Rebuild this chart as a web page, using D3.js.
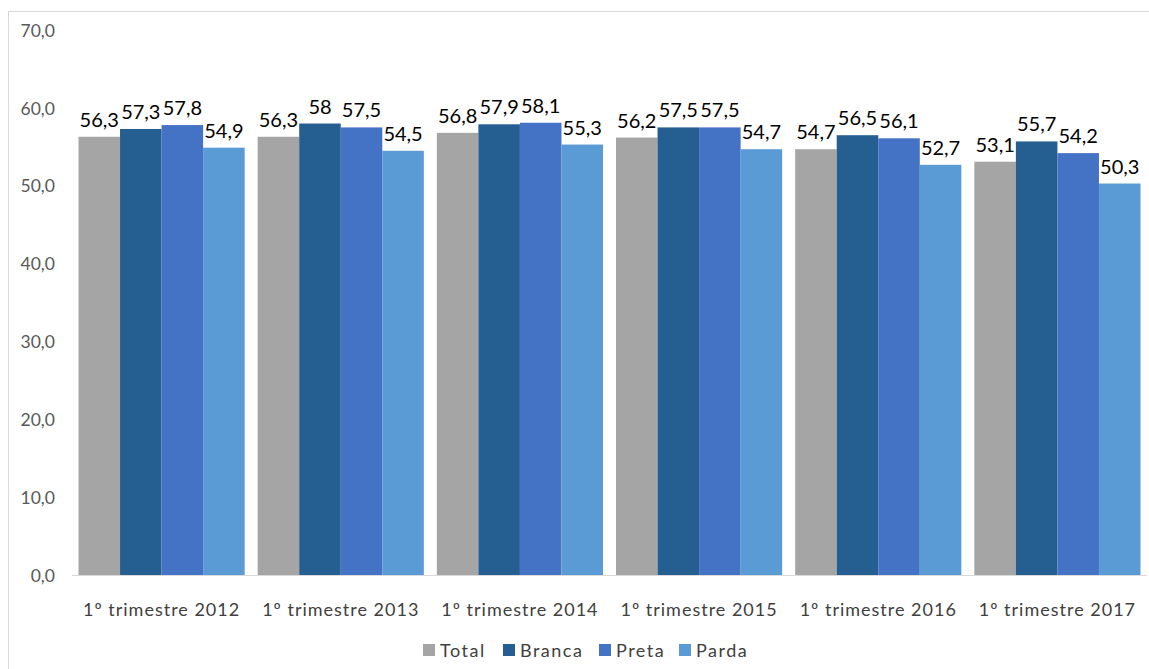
<!DOCTYPE html>
<html>
<head>
<meta charset="utf-8">
<script src="https://cdn.jsdelivr.net/npm/d3@7"></script>
<style>
  html, body { margin: 0; padding: 0; background: #fff; }
  svg { display: block; }
  text { font-family: Lato, "Open Sans", sans-serif; }
</style>
</head>
<body>
<svg id="chart" width="1149" height="669"></svg>
<script>
const categories = ["1º trimestre 2012", "1º trimestre 2013", "1º trimestre 2014", "1º trimestre 2015", "1º trimestre 2016", "1º trimestre 2017"];
const seriesNames = ["Total", "Branca", "Preta", "Parda"];
const totalValues  = [56.3, 56.3, 56.8, 56.2, 54.7, 53.1];
const brancaValues = [57.3, 58.0, 57.9, 57.5, 56.5, 55.7];
const pretaValues  = [57.8, 57.5, 58.1, 57.5, 56.1, 54.2];
const pardaValues  = [54.9, 54.5, 55.3, 54.7, 52.7, 50.3];
const yTicks = [0, 10, 20, 30, 40, 50, 60, 70];
const colors = ["#A5A5A5", "#255E91", "#4472C4", "#5B9BD5"];

const seriesValues = [totalValues, brancaValues, pretaValues, pardaValues];

const svg = d3.select("#chart");

// outer chart frame
svg.append("rect")
  .attr("x", 8.5).attr("y", 11.5)
  .attr("width", 1200).attr("height", 700)
  .attr("fill", "none").attr("stroke", "#D9D9D9").attr("stroke-width", 1);

const y = d3.scaleLinear().domain([0, 70]).range([575.5, 30]);
const pi = 13 / 179;
const x0 = d3.scaleBand().domain(categories).range([72, 1147]).paddingInner(pi).paddingOuter(pi / 2);
const x1 = d3.scaleBand().domain(seriesNames).range([0, x0.bandwidth()]);

// y axis labels
const yAxis = d3.axisLeft(y).tickValues(yTicks).tickSize(0).tickPadding(0)
  .tickFormat(d => d3.format(".1f")(d).replace(".", ","));
const yg = svg.append("g").attr("transform", "translate(55,0)").call(yAxis);
yg.select(".domain").remove();
yg.selectAll("text").attr("fill", "#595959").style("font-size", "17.5px").attr("dy", "0.35em");

// bars
const groups = svg.append("g").selectAll("g")
  .data(categories)
  .join("g")
  .attr("transform", d => `translate(${x0(d)},0)`);

groups.selectAll("rect")
  .data((c, i) => seriesNames.map((s, j) => ({ s, v: seriesValues[j][i], j })))
  .join("rect")
  .attr("x", d => x1(d.s))
  .attr("width", x1.bandwidth())
  .attr("y", d => y(d.v))
  .attr("height", d => y(0) - y(d.v))
  .attr("fill", d => colors[d.j]);

// data labels
groups.selectAll("text.lbl")
  .data((c, i) => seriesNames.map((s, j) => ({ s, v: seriesValues[j][i], j })))
  .join("text")
  .attr("class", "lbl")
  .attr("x", d => x1(d.s) + x1.bandwidth() / 2)
  .attr("y", d => y(d.v) - 10)
  .attr("text-anchor", "middle")
  .attr("fill", "#000")
  .style("font-size", "20px")
  .text(d => d3.format(".1f")(d.v).replace(".", ",").replace(/,0$/, ""));

// x axis
const xAxis = d3.axisBottom(x0).tickSize(0).tickPadding(0);
const xg = svg.append("g").attr("transform", "translate(0,575.5)").call(xAxis);
xg.select(".domain").attr("stroke", "#D9D9D9").attr("d", "M72,0H1147");
xg.selectAll("text").attr("fill", "#404040").style("font-size", "18px")
  .attr("dy", "0").attr("y", 40).style("letter-spacing", "1px");

// legend
const legendX = [423, 503, 599, 679];
const lg = svg.append("g").selectAll("g").data(seriesNames).join("g")
  .attr("transform", (d, i) => `translate(${legendX[i]},644)`);
lg.append("rect").attr("width", 12).attr("height", 12).attr("fill", (d, i) => colors[i]);
lg.append("text").attr("x", 17).attr("y", 13)
  .attr("fill", "#404040").style("font-size", "18px").style("letter-spacing", "1.5px")
  .text(d => d);
</script>
</body>
</html>
